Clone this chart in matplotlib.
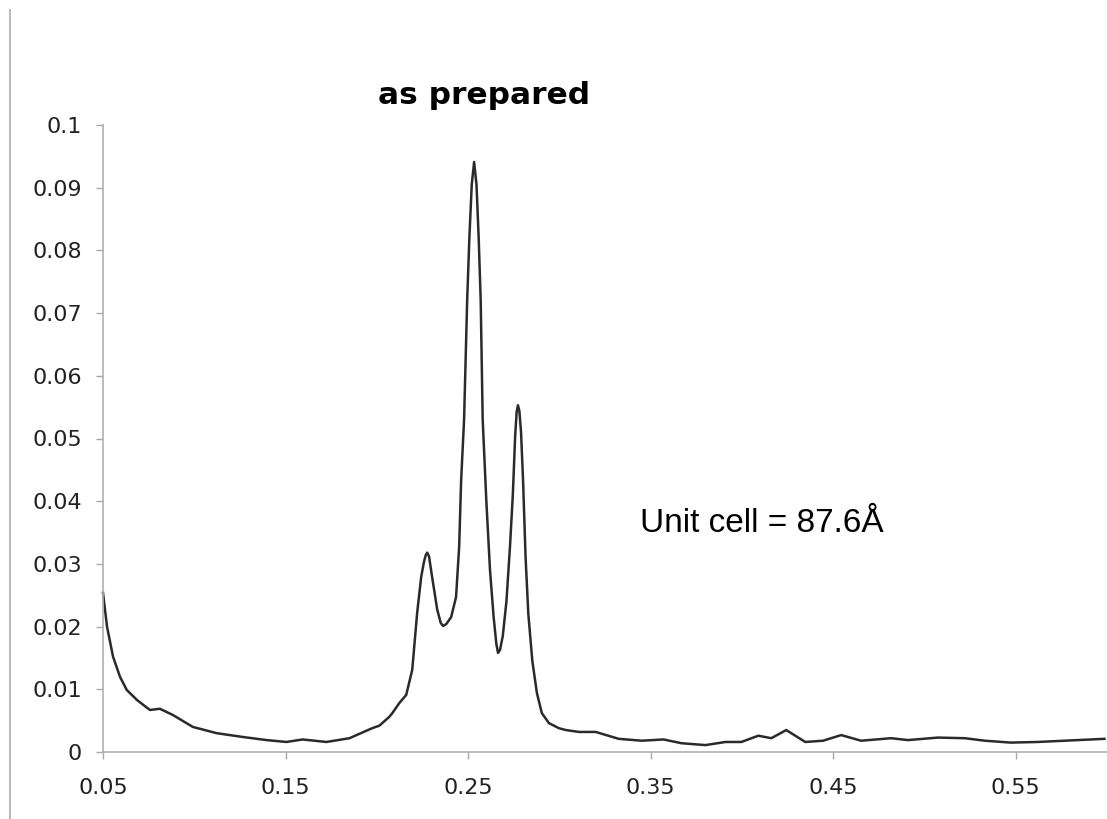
import matplotlib.pyplot as plt
from matplotlib.lines import Line2D

# scattering vector vs intensity
q = [0.0500, 0.0522, 0.0555, 0.0593, 0.0630, 0.0686, 0.0757, 0.0811, 0.0883, 0.0992,
     0.1123, 0.1265, 0.1396, 0.1505, 0.1593, 0.1724, 0.1850, 0.1975, 0.2014, 0.2068,
     0.2085, 0.2123, 0.2161, 0.2194, 0.2221, 0.2243, 0.2258, 0.2268, 0.2276, 0.2286,
     0.2303, 0.2331, 0.2350, 0.2363, 0.2380, 0.2407, 0.2434, 0.2451, 0.2462, 0.2478,
     0.2495, 0.2507, 0.2520, 0.2533, 0.2546, 0.2558, 0.2569, 0.2580, 0.2600, 0.2620,
     0.2640, 0.2655, 0.2664, 0.2675, 0.2690, 0.2710, 0.2730, 0.2745, 0.2758, 0.2766,
     0.2773, 0.2781, 0.2790, 0.2801, 0.2815, 0.2830, 0.2852, 0.2877, 0.2904, 0.2943,
     0.2997, 0.3036, 0.3107, 0.3199, 0.3325, 0.3451, 0.3571, 0.3669, 0.3800, 0.3910,
     0.3997, 0.4090, 0.4161, 0.4243, 0.4347, 0.4445, 0.4544, 0.4653, 0.4817, 0.4910,
     0.5074, 0.5221, 0.5331, 0.5473, 0.5620, 0.5768, 0.5986]
intensity = [0.0254, 0.0200, 0.0152, 0.0120, 0.0099, 0.0083, 0.0067, 0.0069, 0.0059, 0.0040,
             0.0030, 0.0024, 0.0019, 0.0016, 0.0020, 0.0016, 0.0022, 0.0038, 0.0042, 0.0056,
             0.0062, 0.0078, 0.0091, 0.0131, 0.0222, 0.0279, 0.0303, 0.0314, 0.0318, 0.0312,
             0.0279, 0.0227, 0.0206, 0.0201, 0.0204, 0.0215, 0.0247, 0.0327, 0.0434, 0.0530,
             0.0721, 0.0820, 0.0905, 0.0941, 0.0905, 0.0820, 0.0721, 0.0530, 0.0400, 0.0290,
             0.0215, 0.0172, 0.0158, 0.0163, 0.0185, 0.0240, 0.0330, 0.0410, 0.0505, 0.0542,
             0.0553, 0.0544, 0.0510, 0.0434, 0.0310, 0.0220, 0.0145, 0.0094, 0.0062, 0.0046,
             0.0038, 0.0035, 0.0032, 0.0032, 0.0021, 0.0018, 0.0020, 0.0014, 0.0011, 0.0016,
             0.0016, 0.0026, 0.0022, 0.0035, 0.0016, 0.0018, 0.0027, 0.0018, 0.0022, 0.0019,
             0.0023, 0.0022, 0.0018, 0.0015, 0.0016, 0.0018, 0.0021]

x_ticks = [0.05, 0.15, 0.25, 0.35, 0.45, 0.55]
x_labels = ['0.05', '0.15', '0.25', '0.35', '0.45', '0.55']
y_ticks = [0, 0.01, 0.02, 0.03, 0.04, 0.05, 0.06, 0.07, 0.08, 0.09, 0.1]
y_labels = ['0', '0.01', '0.02', '0.03', '0.04', '0.05', '0.06', '0.07', '0.08', '0.09', '0.1']

fig = plt.figure(figsize=(11.07, 8.19), dpi=100)
ax = fig.add_axes([103 / 1107, 67 / 819, 1 - 103 / 1107, (752 - 125) / 819])

ax.plot(q, intensity, color='#2a2a2a', linewidth=1.8, clip_on=False,
        solid_joinstyle='round')

ax.set_xlim(0.05, 0.6)
ax.set_ylim(0, 0.1)
ax.set_xticks(x_ticks)
ax.set_xticklabels(x_labels)
ax.set_yticks(y_ticks)
ax.set_yticklabels(y_labels)
ax.tick_params(axis='both', direction='out', length=5, width=1, color='#a8a8a8',
               labelsize=16, labelcolor='#222222')
ax.tick_params(axis='y', pad=10)
ax.tick_params(axis='x', pad=14)

for side in ['top', 'right']:
    ax.spines[side].set_visible(False)
for side in ['left', 'bottom']:
    ax.spines[side].set_color('#b0b0b0')
    ax.spines[side].set_linewidth(1.2)

fig.text(484 / 1107, 1 - 95 / 819, 'as prepared', ha='center', va='center',
         fontsize=22.5, fontweight='bold', family='DejaVu Sans')
fig.text(640 / 1107, 1 - 523 / 819, 'Unit cell = 87.6Å', ha='left', va='center',
         fontsize=24, family='Liberation Sans')

# thin border line on the left edge of the original image
fig.add_artist(Line2D([10 / 1107, 10 / 1107], [0, 1 - 10 / 819],
                      color='#bbbbbb', linewidth=1.5))

fig.savefig('out.png', dpi=100)
